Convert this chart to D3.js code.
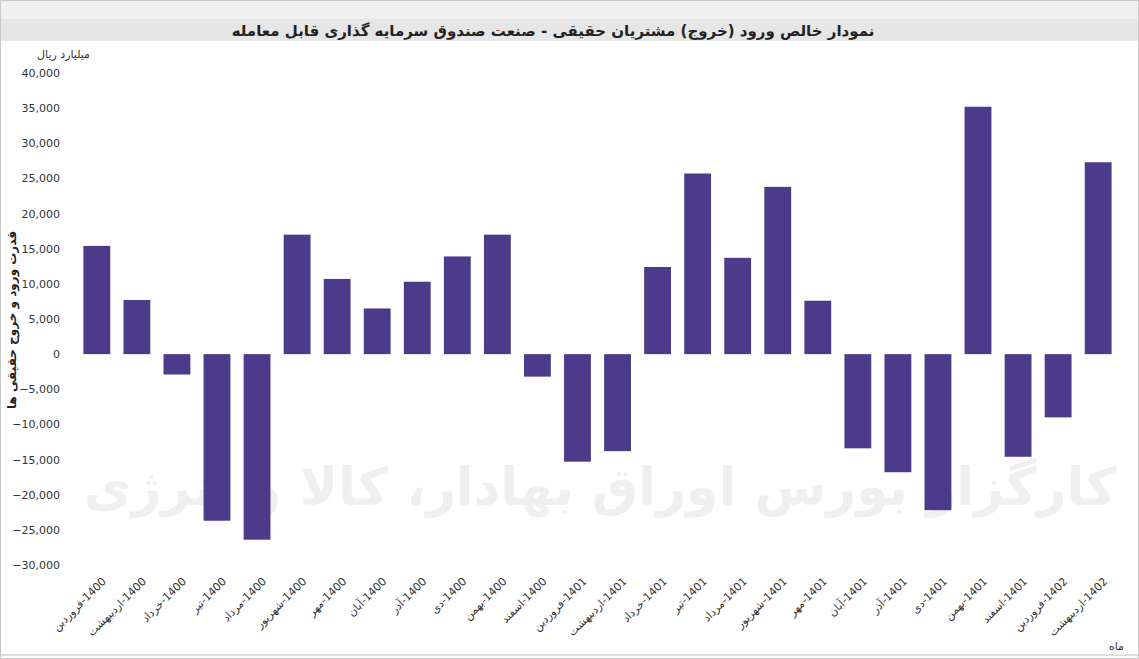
<!DOCTYPE html>
<html><head><meta charset="utf-8">
<script src="https://cdn.jsdelivr.net/npm/d3@7"></script>
<style>body{margin:0;background:#fff}svg{display:block;font-family:"DejaVu Sans",sans-serif}</style>
</head><body><svg id="c" width="1139" height="659"></svg>
<script>
const categories = [
 "1400-فروردین","1400-اردیبهشت","1400-خرداد","1400-تیر","1400-مرداد","1400-شهریور","1400-مهر","1400-آبان","1400-آذر","1400-دی","1400-بهمن","1400-اسفند",
 "1401-فروردین","1401-اردیبهشت","1401-خرداد","1401-تیر","1401-مرداد","1401-شهریور","1401-مهر","1401-آبان","1401-آذر","1401-دی","1401-بهمن","1401-اسفند",
 "1402-فروردین","1402-اردیبهشت"];
const values = [15400,7700,-2900,-23700,-26400,17000,10700,6500,10300,13900,17000,-3200,
 -15300,-13800,12400,25700,13700,23800,7600,-13400,-16800,-22200,35200,-14600,-9000,27300];
const yTicks = [40000,35000,30000,25000,20000,15000,10000,5000,0,-5000,-10000,-15000,-20000,-25000,-30000];

const svg = d3.select("#c");
svg.append("rect").attr("x",0.5).attr("y",0.5).attr("width",1138).attr("height",658).attr("fill","#fff").attr("stroke","#c8c8c8");
svg.append("rect").attr("x",1).attr("y",1).attr("width",1137).attr("height",18).attr("fill","#f0f0f0");
svg.append("rect").attr("x",1).attr("y",19).attr("width",1137).attr("height",22).attr("fill","#e6e6e6");
svg.append("text").attr("x",553).attr("y",36).attr("text-anchor","middle").attr("font-size",15).attr("font-weight","bold").attr("fill","#222")
 .text("نمودار خالص ورود (خروج) مشتریان حقیقی - صنعت صندوق سرمایه گذاری قابل معامله");
svg.append("line").attr("x1",1).attr("x2",1138).attr("y1",655).attr("y2",655).attr("stroke","#bbb");

svg.append("text").attr("x",600).attr("y",505).attr("text-anchor","middle").attr("font-size",52).attr("font-weight","bold").attr("fill","#efefef")
 .text("کارگزار بورس اوراق بهادار، کالا و انرژی");

const y = d3.scaleLinear().domain([-30000,40000]).range([565,73]);
const x = d3.scaleBand().domain(categories).range([77,1118]).paddingInner(0.33).paddingOuter(0.16);

svg.append("g").selectAll("text").data(yTicks).join("text")
 .attr("x",60).attr("y",d=>y(d)+4).attr("text-anchor","end").attr("font-size",11).attr("fill","#333")
 .text(d=>d3.format(",")(d));

svg.append("g").selectAll("rect").data(values).join("rect")
 .attr("x",(d,i)=>x(categories[i])).attr("width",x.bandwidth())
 .attr("y",d=>y(Math.max(0,d))).attr("height",d=>Math.abs(y(d)-y(0)))
 .attr("fill","#4b3b8a");

// display: month on the left, year on the right
const label = d => { const [yr, m] = d.split("-"); return m + "\u200E-" + yr; };
svg.append("g").selectAll("text").data(categories).join("text")
 .attr("transform",d=>`translate(${x(d)+x.bandwidth()/2+10},${582}) rotate(-45)`)
 .attr("text-anchor","end").attr("font-size",11).attr("fill","#333")
 .text(label);

svg.append("text").attr("x",90).attr("y",58).attr("text-anchor","end").attr("font-size",11).attr("fill","#333").text("میلیارد ریال");
svg.append("text").attr("transform","translate(16,320) rotate(-90)").attr("text-anchor","middle").attr("font-size",12).attr("font-weight","bold").attr("fill","#222")
 .text("قدرت ورود و خروج حقیقی ها");
svg.append("text").attr("x",1124).attr("y",650).attr("text-anchor","end").attr("font-size",11).attr("fill","#333").text("ماه");
</script></body></html>
